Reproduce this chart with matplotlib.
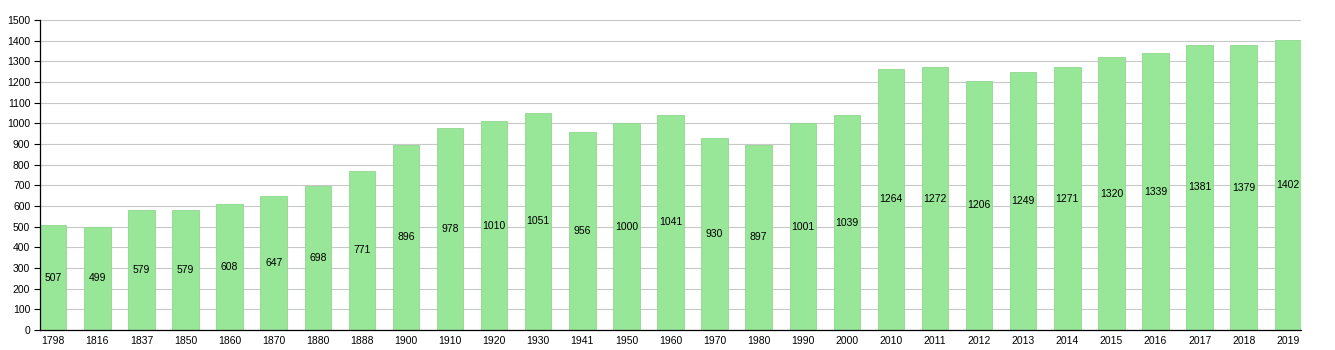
import matplotlib
matplotlib.use("Agg")
import matplotlib.pyplot as plt
import numpy as np

years = ["1798", "1816", "1837", "1850", "1860", "1870", "1880", "1888", "1900", "1910",
         "1920", "1930", "1941", "1950", "1960", "1970", "1980", "1990", "2000", "2010",
         "2011", "2012", "2013", "2014", "2015", "2016", "2017", "2018", "2019"]
population = [507, 499, 579, 579, 608, 647, 698, 771, 896, 978,
              1010, 1051, 956, 1000, 1041, 930, 897, 1001, 1039, 1264,
              1272, 1206, 1249, 1271, 1320, 1339, 1381, 1379, 1402]

plt.rcParams['font.family'] = ['Liberation Sans', 'DejaVu Sans']

fig = plt.figure(figsize=(13.35, 3.5), dpi=100)
ax = fig.add_axes([40 / 1335, 20 / 350, 1261 / 1335, 310 / 350])

x = np.arange(len(years))
bars = ax.bar(x, population, width=0.6, color='#98e698', edgecolor='#8fd88f',
              linewidth=0.6, zorder=2)

# valeurs au milieu des barres
for xi, v in zip(x, population):
    ax.text(xi, v / 2, str(v), ha='center', va='center', fontsize=7.5, zorder=3)

ax.set_xlim(-0.3, len(years) - 0.7)
ax.set_ylim(0, 1500)
ax.set_yticks(range(0, 1501, 100))
ax.set_xticks(x)
ax.set_xticklabels(years)
ax.tick_params(axis='both', labelsize=7.5)
ax.tick_params(axis='x', length=0, pad=4)
ax.tick_params(axis='y', length=4, width=0.8, pad=3)

ax.yaxis.grid(True, color='#c8c8c8', linewidth=0.8, zorder=0)
ax.set_axisbelow(True)
for s in ['top', 'right']:
    ax.spines[s].set_visible(False)
ax.spines['left'].set_linewidth(0.9)
ax.spines['bottom'].set_linewidth(0.9)

fig.savefig("out.png", dpi=100)
